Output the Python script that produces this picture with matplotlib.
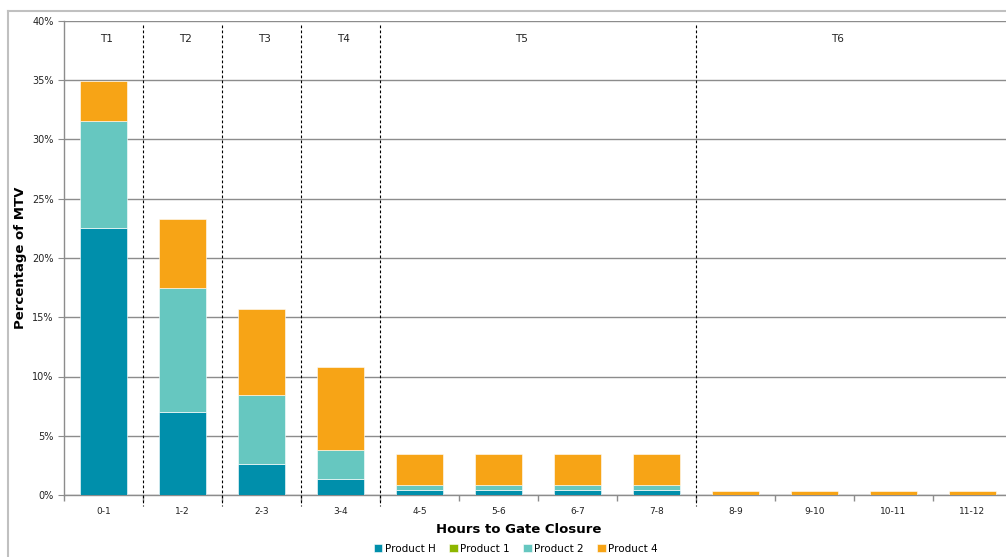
import matplotlib
matplotlib.use('Agg')
import matplotlib.pyplot as plt
from matplotlib.lines import Line2D
from matplotlib.ticker import FuncFormatter
import numpy as np

hours = ['0-1', '1-2', '2-3', '3-4', '4-5', '5-6', '6-7', '7-8',
         '8-9', '9-10', '10-11', '11-12']
product_h = [22.5, 7.0, 2.6, 1.35, 0.4, 0.4, 0.4, 0.4, 0, 0, 0, 0]
product_1 = [0, 0, 0, 0, 0, 0, 0, 0, 0, 0, 0, 0]
product_2 = [9.05, 10.5, 5.8, 2.45, 0.45, 0.45, 0.45, 0.45, 0, 0, 0, 0]
product_4 = [3.35, 5.75, 7.3, 7.0, 2.65, 2.65, 2.65, 2.65, 0.3, 0.3, 0.3, 0.3]
# time bands: label, first and last category index
bands = [('T1', 0, 0), ('T2', 1, 1), ('T3', 2, 2), ('T4', 3, 3),
         ('T5', 4, 7), ('T6', 8, 11)]

series = [('Product H', product_h, '#008fab'),
          ('Product 1', product_1, '#8db600'),
          ('Product 2', product_2, '#66c7c0'),
          ('Product 4', product_4, '#f7a416')]

W, H = 1006, 557
fig = plt.figure(figsize=(W / 100, H / 100), dpi=100)
ax = fig.add_axes([64 / W, (H - 495) / H, 948 / W, 474 / H])

x = np.arange(len(hours))
bottom = np.zeros(len(hours))
for name, vals, col in series:
    vals = np.array(vals)
    ax.bar(x, vals, 0.6, bottom=bottom, color=col, edgecolor='white',
           linewidth=0.4, label=name, zorder=3)
    bottom += vals

ax.set_xlim(-0.5, len(hours) - 0.5)
ax.set_ylim(0, 40)
ax.set_yticks(np.arange(0, 41, 5))
ax.yaxis.set_major_formatter(FuncFormatter(lambda v, p: '%d%%' % v))
ax.grid(axis='y', color='#8c8c8c', linewidth=1, zorder=0)
ax.set_axisbelow(True)

ax.set_xticks(x)
ax.set_xticklabels(hours)
ax.set_xticks(np.arange(-0.5, len(hours), 1), minor=True)
ax.tick_params(axis='x', which='major', length=0, labelsize=6.5, pad=9,
               labelcolor='#222222')
ax.tick_params(axis='x', which='minor', length=4, color='#8c8c8c', width=1)
ax.tick_params(axis='y', length=4, color='#8c8c8c', labelsize=7,
               labelcolor='#222222')

for s in ['top', 'right']:
    ax.spines[s].set_visible(False)
for s in ['left', 'bottom']:
    ax.spines[s].set_color('#8c8c8c')
    ax.spines[s].set_linewidth(1)

# band separators and labels
for lab, i0, i1 in bands:
    if i0 > 0:
        ax.plot([i0 - 0.5, i0 - 0.5], [39.7, -0.9], color='black',
                linestyle=(0, (2.5, 2)), linewidth=0.8, clip_on=False, zorder=4)
    ax.text((i0 + i1) / 2 + 0.04 - (0.25 if i1 > i0 else 0), 38.5, lab,
            ha='center', va='center', fontsize=7.5, color='#222222')

ax.set_xlabel('Hours to Gate Closure', fontsize=9.5, fontweight='bold', labelpad=4)
ax.xaxis.set_label_coords((519 - 64) / 948, -(523 - 495) / 474)
ax.set_ylabel('Percentage of MTV', fontsize=9.5, fontweight='bold')
ax.yaxis.set_label_coords(-(64 - 27) / 948, (495 - 258) / 474)

# outer chart border
fig.add_artist(Line2D([8 / W, 1], [1 - 11 / H, 1 - 11 / H], color='#c0c0c0', linewidth=1.5))
fig.add_artist(Line2D([8 / W, 8 / W], [0, 1 - 11 / H], color='#c0c0c0', linewidth=1.5))

fig.legend(loc='center', bbox_to_anchor=(516 / W, 1 - 549 / H), ncol=4,
           frameon=False, fontsize=7.5, handlelength=0.8, handleheight=0.8,
           handletextpad=0.25, columnspacing=1.3, borderpad=0)

fig.savefig('out.png', dpi=100)
